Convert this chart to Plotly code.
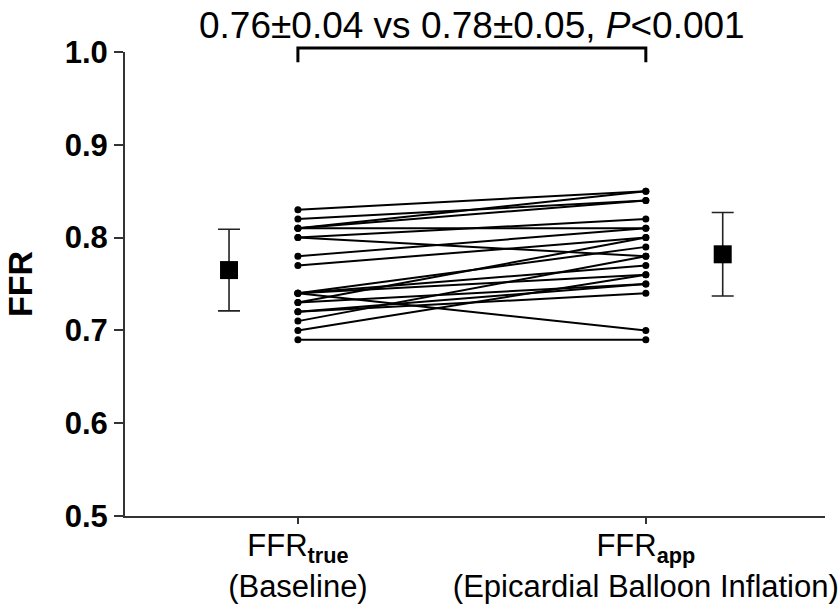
import plotly.graph_objects as go

# paired FFR values
ffr_true = [0.83, 0.82, 0.81, 0.81, 0.80, 0.80, 0.81, 0.78, 0.77, 0.74,
            0.74, 0.74, 0.74, 0.73, 0.72, 0.72, 0.71, 0.70, 0.69, 0.73]
ffr_app = [0.85, 0.84, 0.85, 0.84, 0.82, 0.78, 0.81, 0.81, 0.80, 0.79,
           0.77, 0.70, 0.76, 0.75, 0.74, 0.75, 0.78, 0.76, 0.69, 0.80]

# summary (mean ± SD) as drawn
summary_x = [0.802, 2.221]
summary_mean = [0.765, 0.782]
summary_sd = [0.044, 0.045]

tick_vals = [1, 2]
tick_text = ["FFR<sub><b>true</b></sub><br>(Baseline)",
             "FFR<sub><b>app</b></sub><br>(Epicardial Balloon Inflation)"]
y_ticks = [0.5, 0.6, 0.7, 0.8, 0.9, 1.0]
title_text = "0.76±0.04 vs 0.78±0.05, <i>P</i><0.001"

FONT = "Liberation Sans, Arial, sans-serif"
AX = "#333333"

fig = go.Figure()
for a, b in zip(ffr_true, ffr_app):
    fig.add_trace(go.Scatter(
        x=[1, 2], y=[a, b], mode="lines+markers",
        line=dict(color="black", width=2),
        marker=dict(color="black", size=7, symbol="circle"),
        showlegend=False, hoverinfo="skip", cliponaxis=False))

fig.add_trace(go.Scatter(
    x=summary_x, y=summary_mean, mode="markers",
    marker=dict(color="black", size=18, symbol="square"),
    error_y=dict(type="data", array=summary_sd, visible=True,
                 color="#222222", thickness=1.6, width=11),
    showlegend=False, cliponaxis=False))

fig.update_layout(
    width=838, height=609,
    margin=dict(l=125, r=13, t=52, b=93),
    paper_bgcolor="white", plot_bgcolor="white",
    font=dict(family=FONT, color="black"),
    xaxis=dict(range=[0.503, 2.515], tickvals=tick_vals, ticktext=tick_text,
               automargin=False, ticklabeloverflow="allow",
               ticklabelstandoff=-5,
               showgrid=False, zeroline=False, showline=True,
               linecolor=AX, linewidth=2, ticks="outside", ticklen=6,
               tickwidth=1.5, tickcolor=AX,
               tickfont=dict(size=31, family=FONT, color="black")),
    yaxis=dict(range=[0.5, 1.0], tickvals=y_ticks,
               ticktext=[f"{v:.1f}" for v in y_ticks],
               automargin=False, ticklabeloverflow="allow",
               showgrid=False, zeroline=False, showline=True,
               linecolor=AX, linewidth=2, ticks="outside", ticklen=9,
               tickwidth=1.5, tickcolor=AX,
               tickfont=dict(size=31, family=FONT, color="black", weight="bold")),
)

# y-axis title
fig.add_annotation(text="<b>FFR</b>", xref="paper", yref="paper",
                   x=-0.15, y=0.5, textangle=-90, showarrow=False,
                   xanchor="center", yanchor="middle",
                   font=dict(size=34, family=FONT, color="black"))

# significance bracket
fig.add_shape(type="path", xref="x", yref="paper",
              path="M 1,0.978 L 1,1.0086 L 2,1.0086 L 2,0.978",
              line=dict(color="black", width=3))
fig.add_annotation(text=title_text, xref="x", yref="paper",
                   x=1.5, y=1.058, showarrow=False, yanchor="middle",
                   xanchor="center",
                   font=dict(size=37, family=FONT, color="black"))

fig.write_html("out.html")
